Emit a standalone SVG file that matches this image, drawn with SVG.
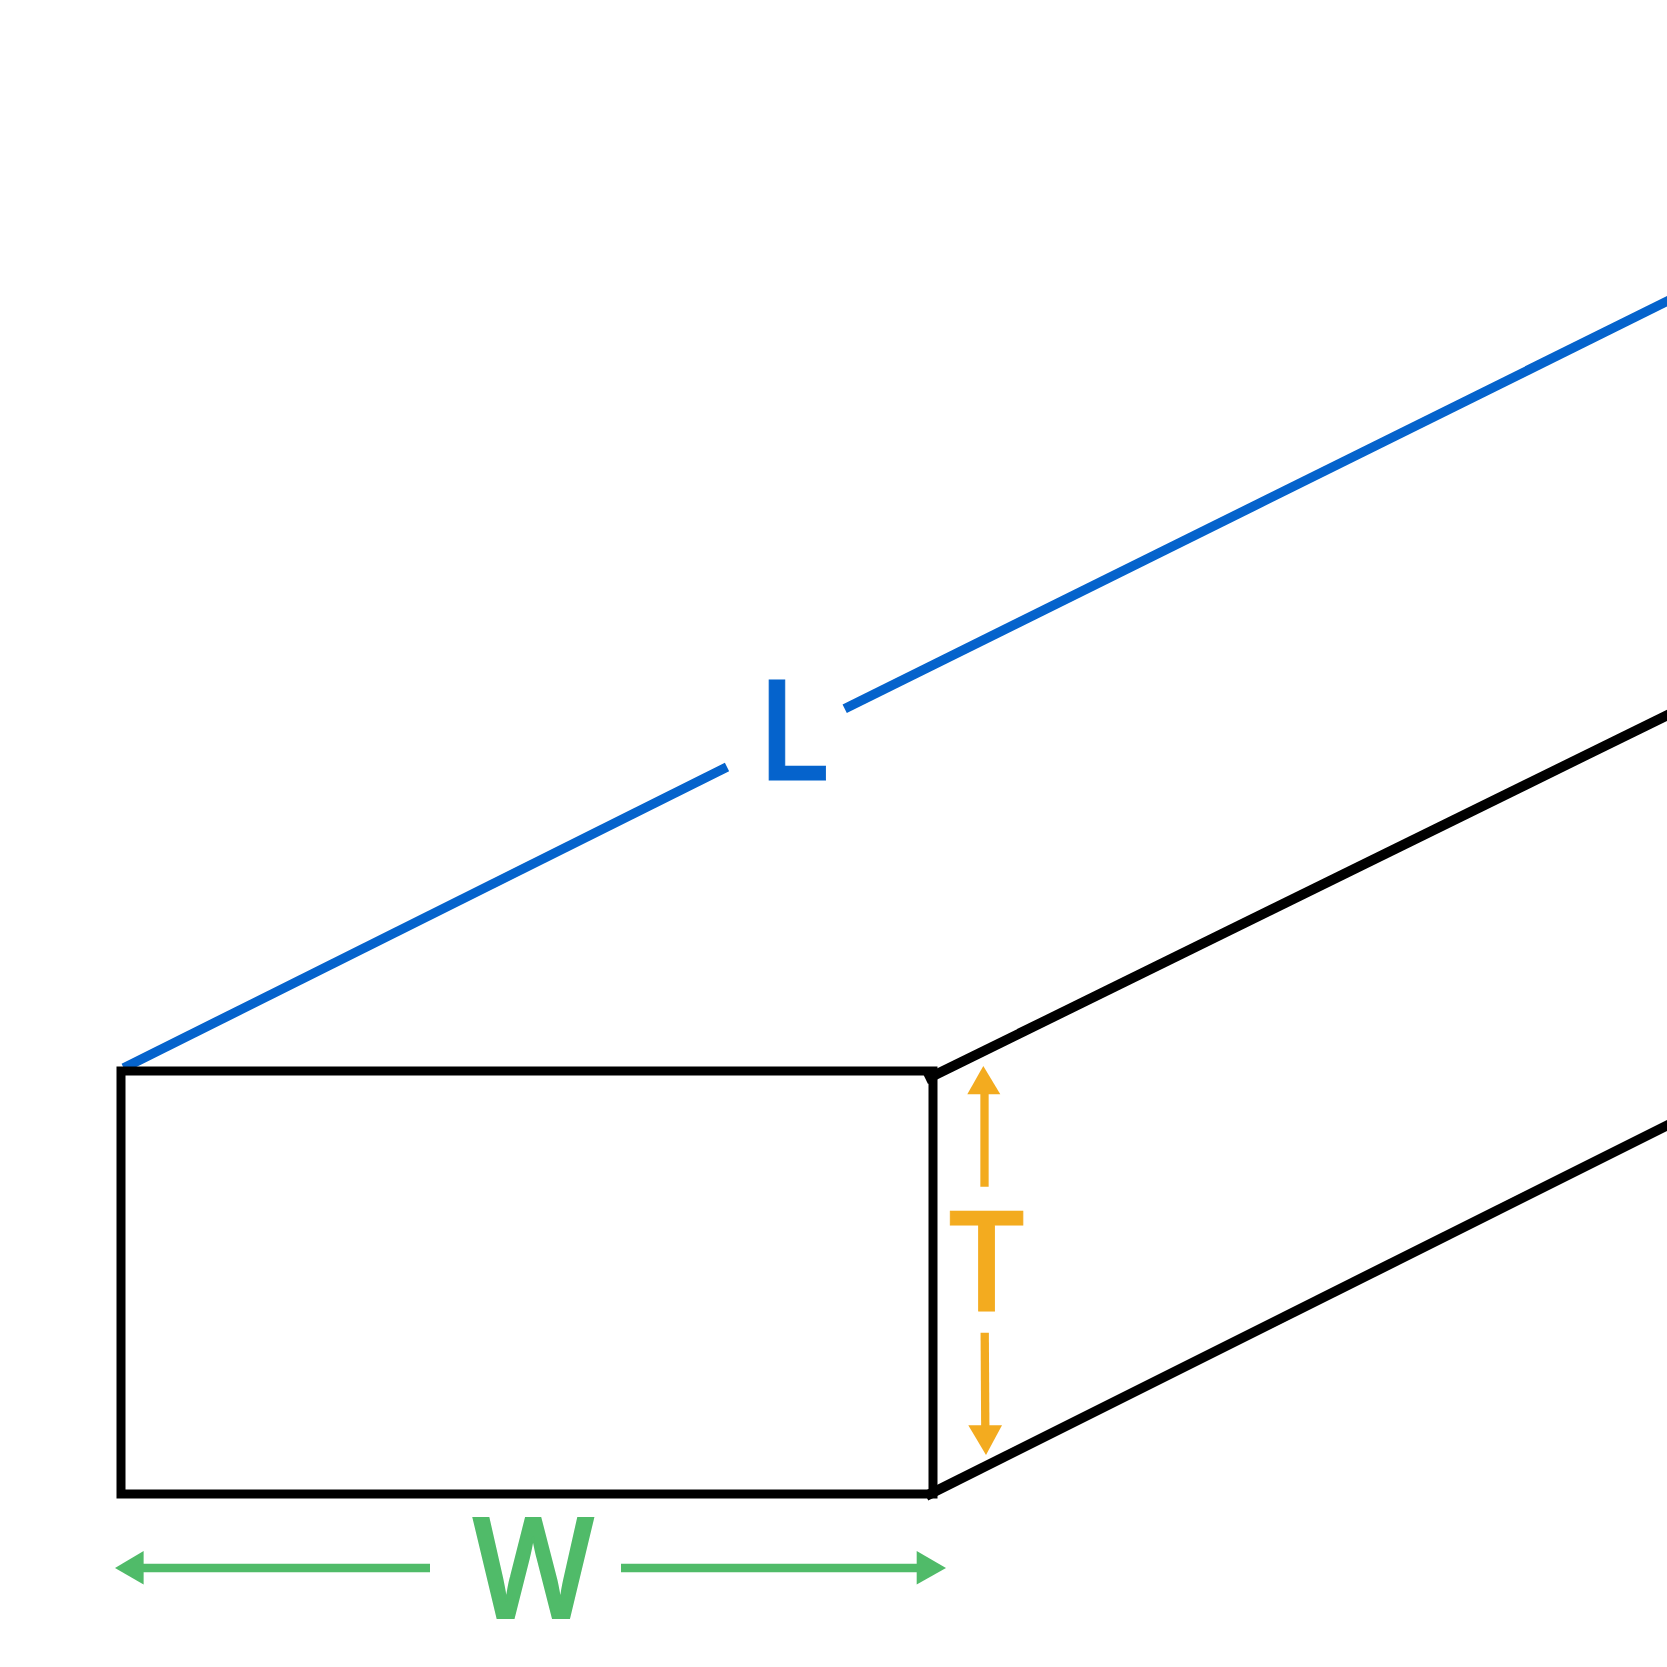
<svg xmlns="http://www.w3.org/2000/svg" width="1667" height="1667" viewBox="0 0 1667 1667">
<style>
.blue{stroke:#0563cc;stroke-width:9.500;fill:none}
.black{stroke:#000;stroke-width:10;fill:none}
.box{stroke:#000;stroke-width:9;fill:none}
.green{stroke:#50bb69;stroke-width:8.300;fill:none}
.orange{stroke:#f3ab1f;stroke-width:8.300;fill:none}
.lab{font-family:"Open Sans","Liberation Sans",sans-serif;font-weight:600;font-size:140px;stroke-width:.8}
</style>
<rect width="1667" height="1667" fill="#fff"/>
<g id="connectors">
<path class="blue" d="M123.700 1068L727 767"/>
<path class="blue" d="M844.700 708.800L1687 291.400"/>
<path class="black" d="M925.800 1079.500L1687 705.500"/>
<path class="black" d="M926 1496L1687 1115.500"/>
<path class="orange" d="M984.500 1186.700V1092"/>
<polygon fill="#f3ab1f" points="983.300,1066 1000.300,1094.300 967.300,1094.300"/>
<path class="orange" d="M984.700 1332.700L985.300 1428"/>
<polygon fill="#f3ab1f" points="986,1455 968.300,1425.300 1002,1425.300"/>
<path class="green" d="M430 1568H142"/>
<polygon fill="#50bb69" points="115,1568 143.600,1551 143.600,1584.500"/>
<path class="green" d="M621 1568H918"/>
<polygon fill="#50bb69" points="946,1568 916.700,1551 916.700,1584.500"/>
</g>
<g id="box"><path class="box" d="M121 1071H933V1494H121Z"/></g>
<g id="label-L"><text class="lab" transform="translate(756.500 779.500) scale(.96 1)" fill="#0563cc" stroke="#0563cc">L</text></g>
<g id="label-T"><text class="lab" transform="translate(986.500 1310.500) scale(.97 1)" text-anchor="middle" fill="#f3ab1f" stroke="#f3ab1f">T</text></g>
<g id="label-W"><text class="lab" transform="translate(533.500 1618) scale(.92 1)" text-anchor="middle" fill="#50bb69" stroke="#50bb69" style="stroke-width:2">W</text></g>
</svg>
